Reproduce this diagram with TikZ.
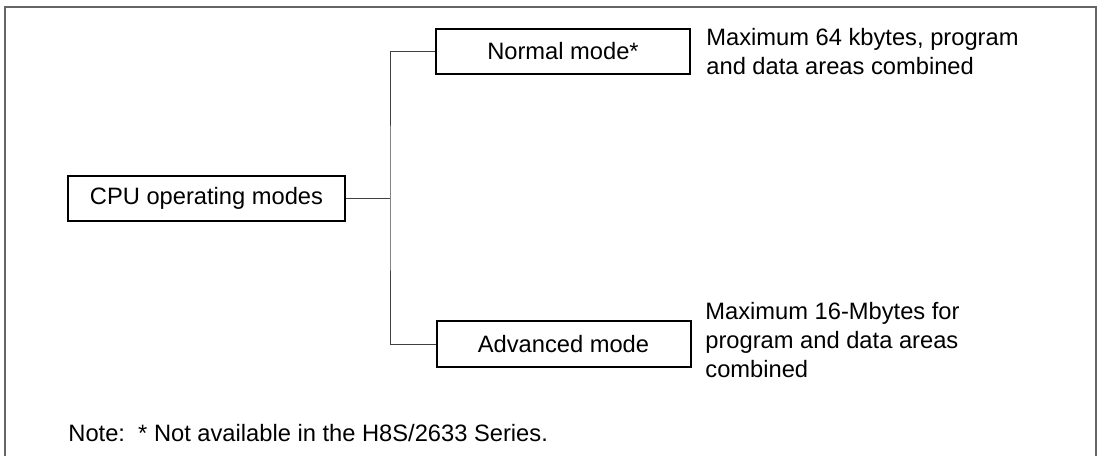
\documentclass[tikz,border=0pt]{standalone}
\usepackage{fontspec}
\setmainfont{Liberation Sans}
\usetikzlibrary{positioning,calc}

\begin{document}
\begin{tikzpicture}[x=0.5pt,y=-0.5pt]
            \tikzstyle{modebox}=[draw, line width=1pt, inner sep=0pt,
            minimum height=22.75pt, font=\fontsize{11.85}{14.5}\selectfont]
            \tikzstyle{desc}=[inner sep=0pt, anchor=west, align=left,
            font=\fontsize{11.85}{14.5}\selectfont]
            \useasboundingbox (0,0) rectangle (1100,456);
            \draw[line width=0.75pt, black!60] (5,456) -- (5,7) -- (1096,7) -- (1096,456);
            \node[modebox, minimum width=138.5pt] (cpu) at (206.5,198.5) {CPU operating modes};
            \node[modebox, minimum width=127pt] (normal) at (563,51.5) {Normal mode*};
            \node[modebox, minimum width=127pt] (adv) at (563.5,344) {Advanced mode};
            \coordinate (j) at (390,198.5);
            \node[desc] (ndesc) at (706,51.5) {Maximum 64 kbytes, program\\and data areas combined};
            \node[desc] (adesc) at (705,340) {Maximum 16-Mbytes for\\program and data areas\\combined};
            \node[desc] (note) at (68,433) {Note:\ \ * Not available in the H8S/2633 Series.};
            \path[draw, line width=0.5pt, black!75]
            (cpu.east) -- (j)
            (normal.west) -| (j) |- (adv.west);
        \end{tikzpicture}
\end{document}
